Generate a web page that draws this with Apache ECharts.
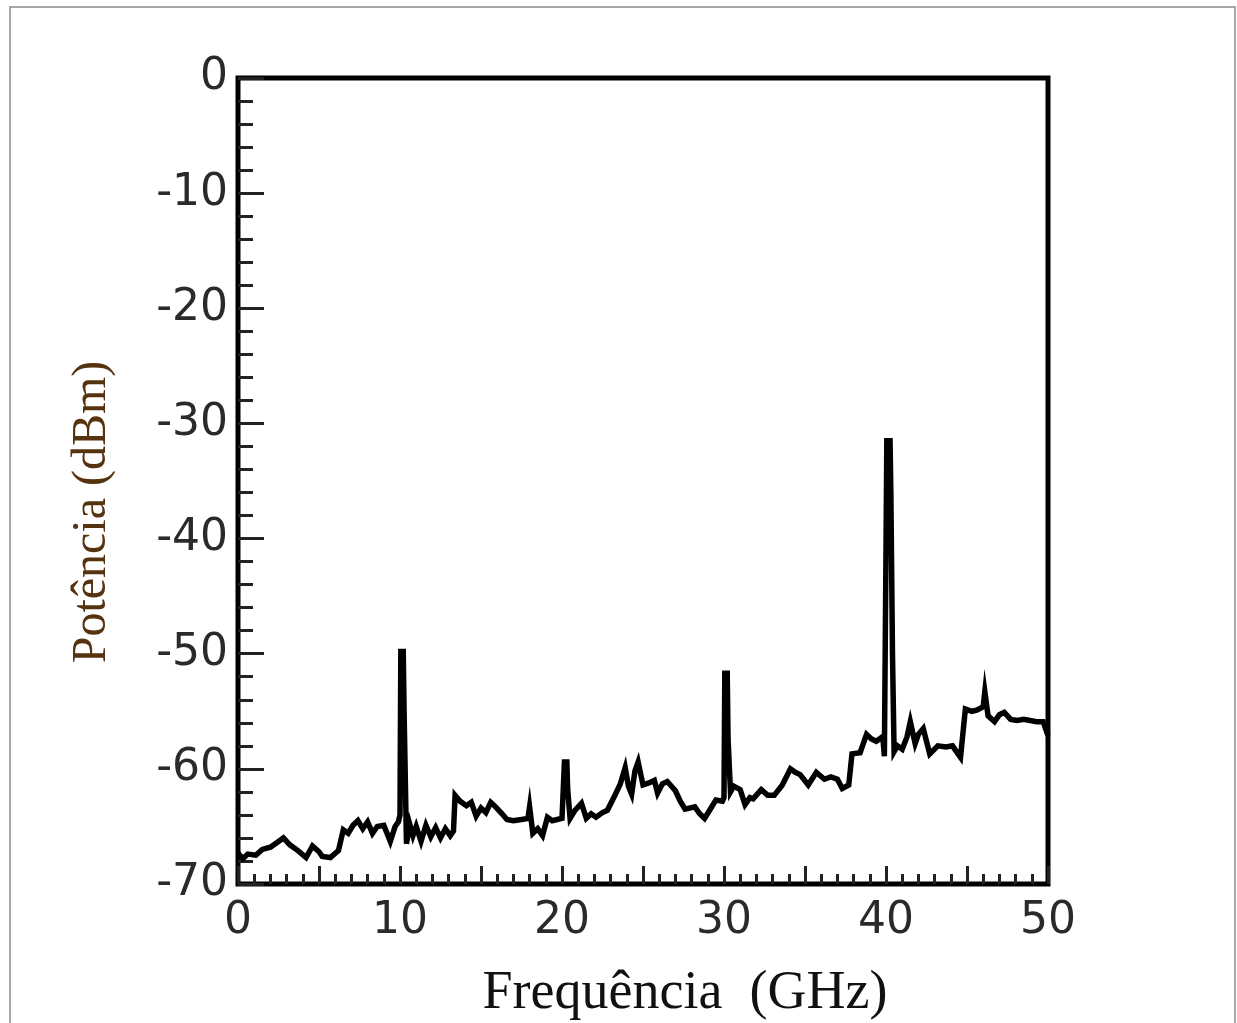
<!DOCTYPE html>
<html>
<head>
<meta charset="utf-8">
<script src="https://cdn.jsdelivr.net/npm/echarts@6/dist/echarts.min.js"></script>
<style>
html,body{margin:0;padding:0;background:#fff;}
#chart{width:1237px;height:1023px;}
</style>
</head>
<body>
<div id="chart"></div>
<script>
// Frequency (GHz)
var freq = [
0.0,0.3,0.6,1.1,1.5,2.0,2.5,2.8,3.2,3.7,4.2,4.6,5.0,5.2,5.7,6.2,6.5,6.8,7.1,7.4,7.7,8.0,8.3,8.6,9.0,9.4,9.7,9.9,
10.0,10.05,10.2,10.25,10.35,10.4,10.6,10.8,11.0,11.3,11.6,11.9,12.2,12.5,12.8,13.1,13.3,13.4,13.7,14.1,14.4,14.7,
15.0,15.3,15.6,15.9,16.3,16.6,17.0,17.5,17.9,18.0,18.2,18.5,18.8,19.1,19.4,19.7,
20.0,20.15,20.3,20.35,20.45,20.5,20.8,21.2,21.5,21.8,22.1,22.5,22.8,23.3,23.6,23.9,24.1,24.3,24.5,24.7,
25.0,25.4,25.7,25.9,26.2,26.5,27.0,27.3,27.6,28.2,28.5,28.8,29.2,29.5,29.9,
30.0,30.05,30.2,30.25,30.35,30.4,30.6,31.0,31.3,31.6,31.8,32.3,32.7,33.1,33.6,34.1,34.4,34.7,
35.2,35.7,36.2,36.6,37.0,37.3,37.7,37.9,38.4,38.8,39.1,39.4,39.8,39.9,
40.0,40.05,40.25,40.3,40.35,40.4,40.5,40.7,41.0,41.3,41.5,41.8,42.0,42.3,42.7,43.2,43.7,44.1,44.6,44.9,
45.3,45.6,46.0,46.1,46.3,46.7,47.0,47.3,47.7,48.1,48.5,48.9,49.3,49.7,50.0
];
// Power (dBm)
var power = [
-67.3,-67.8,-67.4,-67.5,-67.0,-66.8,-66.3,-66.0,-66.6,-67.1,-67.7,-66.7,-67.2,-67.6,-67.7,-67.1,-65.3,-65.6,-64.9,-64.5,-65.2,-64.6,-65.6,-65.0,-64.9,-66.3,-65.0,-64.6,
-64.0,-49.8,-49.8,-54.8,-54.8,-66.5,-64.8,-65.8,-65.0,-66.3,-64.9,-65.9,-65.1,-66.0,-65.2,-65.8,-65.4,-62.3,-62.8,-63.2,-62.9,-64.1,
-63.4,-63.8,-62.9,-63.3,-63.9,-64.4,-64.5,-64.4,-64.3,-63.3,-65.6,-65.2,-65.8,-64.2,-64.5,-64.4,
-64.3,-59.4,-59.4,-61.8,-61.8,-64.3,-63.6,-63.0,-64.3,-63.9,-64.2,-63.8,-63.6,-62.2,-61.3,-59.9,-61.5,-62.2,-60.2,-59.4,
-61.4,-61.2,-61.0,-62.1,-61.3,-61.1,-61.9,-62.8,-63.5,-63.3,-63.9,-64.3,-63.4,-62.7,-62.8,
-62.5,-51.7,-51.7,-57.4,-57.4,-62.0,-61.5,-61.8,-63.1,-62.5,-62.6,-61.8,-62.3,-62.3,-61.4,-60.0,-60.3,-60.5,
-61.4,-60.3,-60.9,-60.7,-60.9,-61.7,-61.4,-58.7,-58.6,-57.0,-57.4,-57.6,-57.2,-58.9,
-41.0,-31.5,-31.5,-36.0,-36.0,-50.0,-58.5,-58.0,-58.3,-57.2,-55.9,-57.8,-57.0,-56.5,-58.7,-58.0,-58.1,-58.0,-59.0,-54.8,
-55.0,-54.9,-54.6,-53.3,-55.4,-55.9,-55.3,-55.1,-55.7,-55.8,-55.7,-55.8,-55.9,-55.9,-57.1
];
var yTicks = [0,-10,-20,-30,-40,-50,-60,-70];
var xTicks = [0,10,20,30,40,50];
var xTitle = 'Frequência  (GHz)';
var yTitle = 'Potência (dBm)';

var seriesData = freq.map(function(f,i){return [f, power[i]];});

var chart = echarts.init(document.getElementById('chart'), null, {renderer:'canvas'});
chart.setOption({
  animation:false,
  backgroundColor:'#ffffff',
  grid:{left:238,right:189,top:78,bottom:139,show:true,borderColor:'#000',borderWidth:5,backgroundColor:'transparent'},
  xAxis:{
    type:'value',min:0,max:50,interval:5,position:'bottom',
    axisLine:{show:false,onZero:false},
    splitLine:{show:false},
    axisTick:{show:true,inside:true,length:18,lineStyle:{color:'#222',width:3}},
    minorTick:{show:true,splitNumber:5,length:10,lineStyle:{color:'#222',width:3}},
    axisLabel:{margin:16,fontSize:44,color:'#2a2a2a',fontFamily:'DejaVu Sans',
      formatter:function(v){return xTicks.indexOf(v)>=0? String(v):'';}}
  },
  yAxis:{
    type:'value',min:-70,max:0,interval:10,position:'left',
    axisLine:{show:false,onZero:false},
    splitLine:{show:false},
    axisTick:{show:true,inside:true,length:26,lineStyle:{color:'#222',width:3}},
    minorTick:{show:true,splitNumber:5,length:15,lineStyle:{color:'#222',width:3}},
    axisLabel:{margin:10,fontSize:44,color:'#2a2a2a',fontFamily:'DejaVu Sans',
      formatter:function(v){return yTicks.indexOf(v)>=0? String(v):'';}}
  },
  series:[{
    type:'line',data:seriesData,showSymbol:false,symbol:'none',
    lineStyle:{color:'#000',width:5.5,join:'miter'},
    z:3
  }],
  graphic:[
    {type:'rect',shape:{x:10,y:7,width:1225,height:1030},style:{fill:'none',stroke:'#8a8a8a',lineWidth:1.5},silent:true},
    {type:'text',x:92,y:512,rotation:Math.PI/2,style:{text:yTitle,font:'48px "Liberation Serif"',fill:'#55330f',textAlign:'center',textVerticalAlign:'middle'}},
    {type:'text',x:685,y:994,style:{text:xTitle,font:'54px "Liberation Serif"',fill:'#111',textAlign:'center',textVerticalAlign:'middle'}}
  ]
});
</script>
</body>
</html>
